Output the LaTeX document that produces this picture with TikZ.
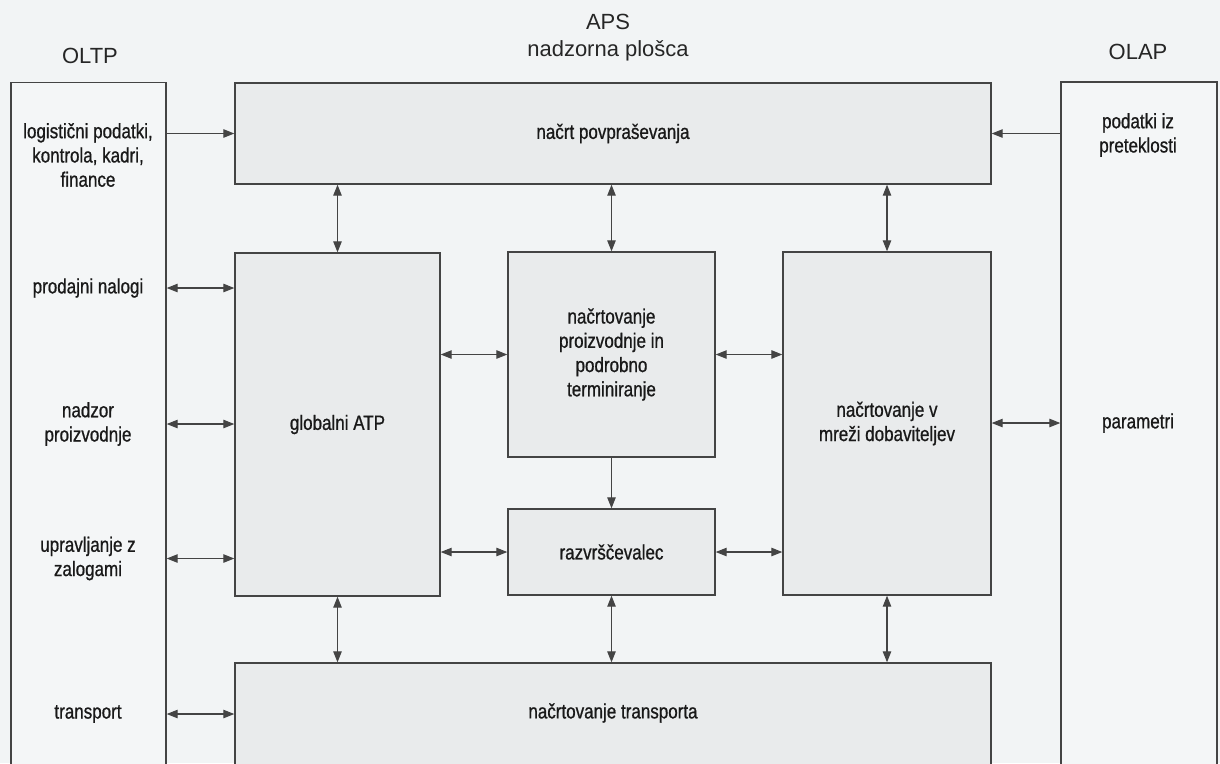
\documentclass[tikz,border=0pt]{standalone}
\usepackage{fontspec}
\setmainfont{Liberation Sans}
\newfontfamily\narrowfont{Liberation Sans}[FakeStretch=0.82, FakeBold=0.8]
\usepackage{tikz}
\usetikzlibrary{arrows.meta, positioning, calc}
\definecolor{paper}{HTML}{F2F4F5}
\definecolor{sysbg}{HTML}{F4F6F7}
\definecolor{boxbg}{HTML}{E9EBEC}
\definecolor{edge}{HTML}{444444}
\tikzset{
  sys box/.style={
    draw=edge, line width=0.8pt, fill=sysbg,
    minimum width=3.1cm, minimum height=13.96cm,
    inner sep=0pt
  },
  aps box/.style={
    draw=edge, line width=0.8pt, fill=boxbg,
    align=center, inner sep=0pt, text=black!90,
    font=\narrowfont\fontsize{11.8}{13.8}\selectfont
  },
  label text/.style={
    align=center, text=black!90,
    font=\narrowfont\fontsize{11.8}{13.8}\selectfont
  },
  title/.style={font=\fontsize{12.5}{14}\selectfont, text=black!85},
  link/.style={
    {Triangle[length=2.2mm,width=1.7mm]}-{Triangle[length=2.2mm,width=1.7mm]},
    line width=0.6pt, color=edge
  },
  flow/.style={-{Triangle[length=2.2mm,width=1.7mm]}, line width=0.6pt, color=edge}
}

\begin{document}
\begin{tikzpicture}
  \useasboundingbox (0,0) rectangle (24.4,-15.26);
  \fill[paper] (0,0) rectangle (24.4,-15.26);
  \clip (0,0) rectangle (24.4,-15.26);

  % Titles
  \node[title] (oltptitle) at (1.8,-1.12) {OLTP};
  \node[title] (apstitle) at (12.16,-0.44) {APS};
  \node[title] (dashboard) at (12.16,-1.02) {nadzorna plošca};
  \node[title] (olaptitle) at (22.76,-1.04) {OLAP};

  % Side systems
  \node[sys box] (oltp) at (1.77,-8.63) {};
  \node[sys box, minimum width=3.12cm] (olap) at (22.78,-8.62) {};

  % APS modules
  \node[aps box, minimum width=15.12cm, minimum height=2.02cm] (plan) at (12.26,-2.67) {načrt povpraševanja};
  \node[aps box, minimum width=4.1cm, minimum height=6.86cm] (atp) at (6.75,-8.49) {globalni ATP};
  \node[aps box, minimum width=4.14cm, minimum height=4.1cm] (prod) at (12.23,-7.09) {načrtovanje\\proizvodnje in\\podrobno\\terminiranje};
  \node[aps box, minimum width=4.16cm, minimum height=6.86cm] (supply) at (17.74,-8.47) {načrtovanje v\\mreži dobaviteljev};
  \node[aps box, minimum width=4.14cm, minimum height=1.72cm] (sched) at (12.23,-11.04) {razvrščevalec};
  \node[aps box, minimum width=15.12cm, minimum height=2.54cm] (transp) at (12.26,-14.53) {};
  \node[label text] (transptxt) at (12.26,-14.26) {načrtovanje transporta};

  % OLTP entries
  \node[label text] (logist) at (1.76,-3.1) {logistični podatki,\\kontrola, kadri,\\finance};
  \node[label text] (orders) at (1.76,-5.76) {prodajni nalogi};
  \node[label text] (control) at (1.76,-8.48) {nadzor\\proizvodnje};
  \node[label text] (stock) at (1.76,-11.17) {upravljanje z\\zalogami};
  \node[label text] (transport) at (1.76,-14.28) {transport};

  % OLAP entries
  \node[label text] (history) at (22.76,-2.7) {podatki iz\\preteklosti};
  \node[label text] (params) at (22.76,-8.46) {parametri};

  % Connections to OLTP and OLAP
  \draw[flow] (oltp.east |- plan.west) -- (plan.west);
  \draw[flow] (olap.west |- plan.east) -- (plan.east);
  \draw[link] (oltp.east |- orders) -- (atp.west |- orders);
  \draw[link] (oltp.east |- control) -- (atp.west |- control);
  \draw[link] (oltp.east |- stock) -- (atp.west |- stock);
  \draw[link] (oltp.east |- transport) -- (transp.west |- transport);
  \draw[link] (supply.east |- params) -- (olap.west |- params);

  % Connections inside APS
  \draw[link] (plan.south -| atp.north) -- (atp.north);
  \draw[link] (plan.south -| prod.north) -- (prod.north);
  \draw[link] (plan.south -| supply.north) -- (supply.north);
  \draw[link] (atp.east |- prod.west) -- (prod.west);
  \draw[link] (prod.east) -- (supply.west |- prod.east);
  \draw[flow] (prod.south) -- (sched.north);
  \draw[link] (atp.east |- sched.west) -- (sched.west);
  \draw[link] (sched.east) -- (supply.west |- sched.east);
  \draw[link] (atp.south) -- (transp.north -| atp.south);
  \draw[link] (sched.south) -- (transp.north -| sched.south);
  \draw[link] (supply.south) -- (transp.north -| supply.south);
\end{tikzpicture}
\end{document}
